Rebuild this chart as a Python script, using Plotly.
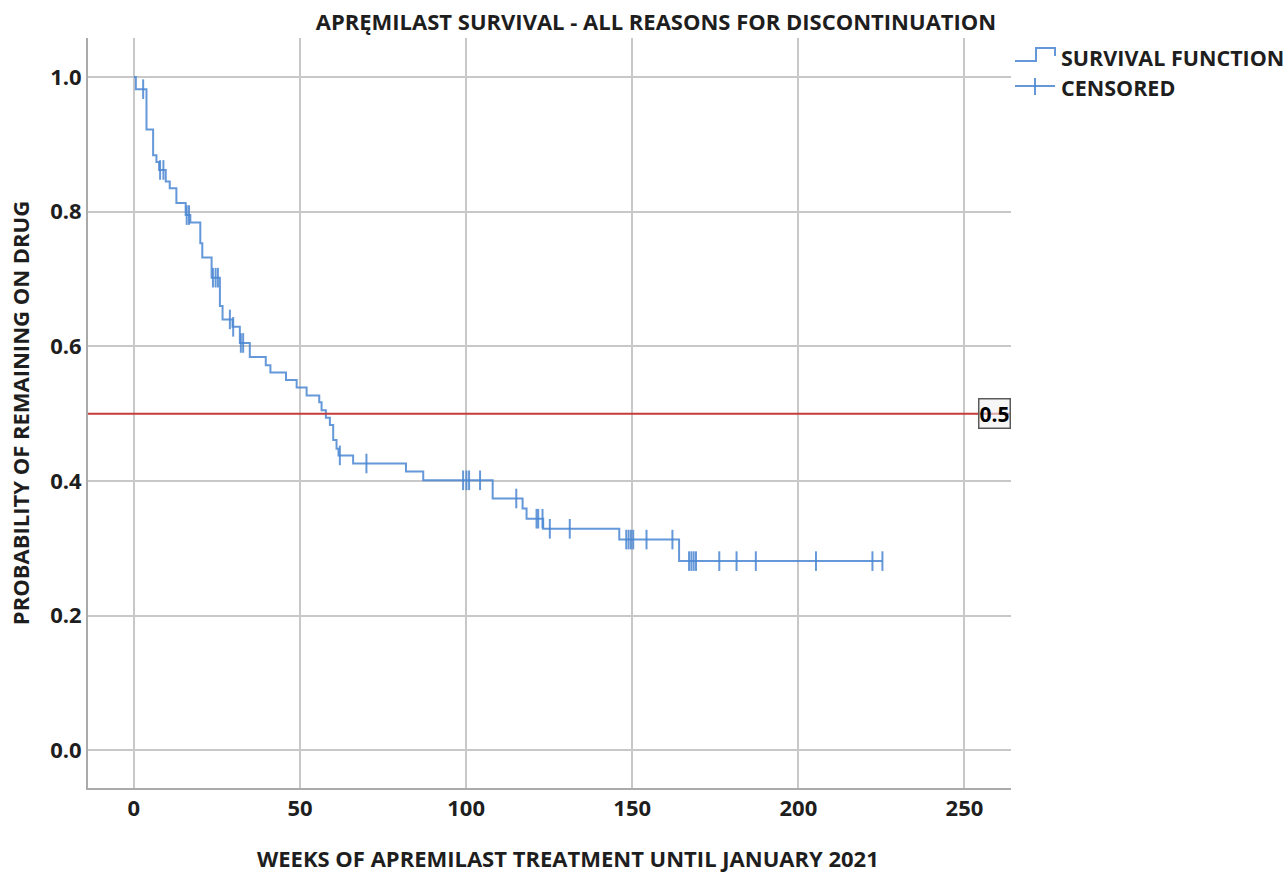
import plotly.graph_objects as go

# Kaplan-Meier step function: event times (weeks) and survival after each step
step_times = [0, 0.6, 3.8, 5.8, 6.8, 7.6, 9.6, 10.8, 12.8, 15.6, 17.0, 20.0, 20.6,
              23.4, 25.9, 26.7, 29.7, 31.9, 34.9, 39.7, 41.1, 45.8, 49.0, 52.0,
              55.8, 56.5, 57.8, 59.0, 60.0, 61.0, 61.6, 66.0, 81.9, 87.1, 108.0,
              117.0, 118.2, 123.2, 146.1, 164.1]
step_surv = [1.0, 0.982, 0.922, 0.884, 0.874, 0.862, 0.845, 0.835, 0.813, 0.795, 0.784,
             0.753, 0.732, 0.702, 0.660, 0.640, 0.629, 0.605, 0.584, 0.572, 0.561,
             0.550, 0.539, 0.527, 0.517, 0.505, 0.494, 0.483, 0.461, 0.448, 0.438,
             0.426, 0.414, 0.401, 0.374, 0.359, 0.344, 0.329, 0.313, 0.281]

# censored observations (weeks)
censor_times = [2.8, 7.9, 8.9, 15.9, 16.6, 23.8, 24.6, 25.3, 28.9, 29.9, 32.2, 32.9,
                62.0, 70.0, 99.1, 100.1, 100.9, 104.2, 115.1, 121.2, 121.7, 123.0,
                125.2, 131.2, 148.2, 148.9, 149.6, 150.3, 154.3, 162.1, 167.1, 167.8,
                168.5, 169.2, 176.2, 181.4, 187.2, 205.3, 222.3, 225.3]

x_ticks = [0, 50, 100, 150, 200, 250]
y_ticks = [0.0, 0.2, 0.4, 0.6, 0.8, 1.0]
y_tick_labels = ["0.0", "0.2", "0.4", "0.6", "0.8", "1.0"]
ref_level = 0.5
legend_labels = ["SURVIVAL FUNCTION", "CENSORED"]


def surv_at(t):
    s = step_surv[0]
    for tt, ss in zip(step_times, step_surv):
        if tt <= t:
            s = ss
    return s


censor_surv = [surv_at(t) for t in censor_times]
end_time = censor_times[-1]
curve_x = step_times + [end_time]
curve_y = step_surv + [surv_at(end_time)]

BLUE = "rgba(74,134,210,0.85)"
FONT = "Open Sans"
fsize = 22
TXT = "rgb(30,30,30)"

W, H = 1287, 875
L, R, T, B = 88, 276, 38, 87
PW, PH = W - L - R, H - T - B


def px(xp):  # window pixel -> paper x
    return (xp - L) / PW


def py(yp):  # window pixel -> paper y
    return (H - B - yp) / PH


fig = go.Figure()
fig.add_trace(go.Scatter(
    x=curve_x, y=curve_y, mode="lines", line=dict(color=BLUE, width=2, shape="hv"),
    name=legend_labels[0], showlegend=False))
fig.add_trace(go.Scatter(
    x=censor_times, y=censor_surv, mode="markers", name=legend_labels[1], showlegend=False,
    marker=dict(symbol="line-ns-open", size=14, color=BLUE, line=dict(color=BLUE, width=2))))

fig.add_shape(type="line", xref="paper", x0=0, x1=1, yref="y", y0=ref_level, y1=ref_level,
              line=dict(color="rgb(196,60,60)", width=2))
fig.add_annotation(xref="paper", x=1, xanchor="right", yref="y", y=ref_level,
                   yanchor="middle", text="0.5", showarrow=False,
                   font=dict(family=FONT, size=21, color="black", weight=700),
                   bordercolor="rgb(90,90,90)", borderwidth=1.5, borderpad=0,
                   bgcolor="rgba(240,240,240,0.6)")

# legend (drawn manually to reproduce the step-shaped key)
step_icon = (f"M {px(1015)},{py(61)} L {px(1036)},{py(61)} L {px(1036)},{py(48)} "
             f"L {px(1055)},{py(48)} L {px(1055)},{py(56)}")
fig.add_shape(type="path", xref="paper", yref="paper", path=step_icon,
              line=dict(color=BLUE, width=2))
fig.add_shape(type="line", xref="paper", yref="paper", x0=px(1015), x1=px(1055),
              y0=py(86), y1=py(86), line=dict(color=BLUE, width=2))
fig.add_shape(type="line", xref="paper", yref="paper", x0=px(1035), x1=px(1035),
              y0=py(78), y1=py(95), line=dict(color=BLUE, width=2))
for lab, yy in zip(legend_labels, [58, 87]):
    fig.add_annotation(xref="paper", yref="paper", x=px(1059), y=py(yy), xanchor="left",
                       yanchor="middle", text=lab, showarrow=False,
                       font=dict(family=FONT, size=21.5, color=TXT, weight=700))

# x-axis title (offset to the right of plot centre as in the reference)
fig.add_annotation(xref="paper", yref="paper", x=px(567.5), y=py(858), xanchor="center",
                   yanchor="middle", showarrow=False,
                   text="WEEKS OF APREMILAST TREATMENT UNTIL JANUARY 2021",
                   font=dict(family=FONT, size=fsize, color=TXT, weight=700))

axis_common = dict(showgrid=True, gridcolor="rgb(200,200,200)", gridwidth=2,
                   zeroline=False, showline=True, linecolor="rgb(170,170,170)",
                   linewidth=2, ticks="", automargin=False,
                   tickfont=dict(family=FONT, size=fsize, color=TXT, weight=700))

fig.update_layout(
    width=W, height=H,
    margin=dict(l=L, r=R, t=T, b=B),
    paper_bgcolor="white", plot_bgcolor="white",
    title=dict(text="APRĘMILAST SURVIVAL - ALL REASONS FOR DISCONTINUATION",
               x=656 / W, xref="container", xanchor="center",
               y=1 - 22 / H, yref="container", yanchor="middle",
               font=dict(family=FONT, size=fsize, color=TXT, weight=700)),
    xaxis=dict(range=[-13.8, 264], tickvals=x_ticks, **axis_common),
    yaxis=dict(range=[-0.056, 1.058], tickvals=y_ticks, ticktext=y_tick_labels, **axis_common,
               title=dict(text="PROBABILITY OF REMAINING ON DRUG", standoff=14,
                          font=dict(family=FONT, size=fsize, color=TXT, weight=700))),
    showlegend=False,
)

fig.write_html("out.html", config={"displayModeBar": False},
               post_script="document.body.style.margin='0';document.body.style.padding='0';")
